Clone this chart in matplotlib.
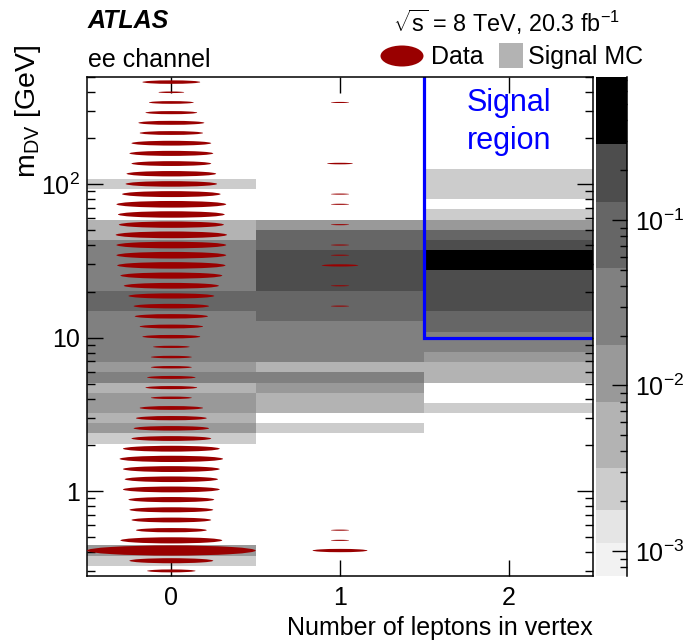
import numpy as np
import matplotlib
matplotlib.use('Agg')
import matplotlib.pyplot as plt
import matplotlib.transforms as mtransforms
from matplotlib.colors import ListedColormap, BoundaryNorm
from matplotlib.patches import Ellipse, Rectangle
from matplotlib.ticker import FixedLocator, LogLocator, NullFormatter, NullLocator

plt.rcParams['font.family'] = ['Liberation Sans', 'DejaVu Sans']
plt.rcParams['mathtext.fontset'] = 'custom'
plt.rcParams['mathtext.rm'] = 'Liberation Sans'
plt.rcParams['mathtext.it'] = 'Liberation Sans:italic'
plt.rcParams['mathtext.bf'] = 'Liberation Sans:bold'

# binning
n_leptons = [0, 1, 2]
m_lo, m_hi, n_bins = 0.28, 500.0, 49

# all per-bin lists below go from the top bin (500 GeV) down to the bottom one
data_0 = [10, 2, 6, 8, 13, 12, 19, 21, 19, 24,
          25, 29, 36, 34, 33, 37, 36, 36, 35, 31,
          27, 22, 17, 16, 12, 10, 4, 5, 5, 7,
          8, 5, 12, 15, 17, 19, 28, 32, 28, 26,
          28, 22, 21, 19, 15, 31, 85, 21, 7]
data_1 = [0, 0, 1, 0, 0, 0, 0, 0, 2, 0,
          0, 1, 1, 0, 1, 0, 1, 1, 4, 0,
          1, 0, 1, 0, 0, 0, 0, 0, 0, 0,
          0, 0, 0, 0, 0, 0, 0, 0, 0, 0,
          0, 0, 0, 0, 1, 1, 9, 0, 0]

# signal MC (fraction per bin)
mc_0 = [0, 0, 0, 0, 0, 0, 0, 0, 0, 0,
        0.0023, 0, 0, 0, 0.0047, 0.0047, 0.026, 0.026, 0.026, 0.026,
        0.026, 0.066, 0.066, 0.026, 0.026, 0.026, 0.026, 0.026, 0.011, 0.026,
        0.0047, 0.011, 0.011, 0.0047, 0.011, 0.0023, 0, 0, 0, 0,
        0, 0, 0, 0, 0, 0, 0.011, 0.0023, 0]
mc_1 = [0, 0, 0, 0, 0, 0, 0, 0, 0, 0,
        0, 0, 0, 0, 0.011, 0.066, 0.066, 0.16, 0.16, 0.16,
        0.16, 0.066, 0.066, 0.066, 0.026, 0.026, 0.026, 0.026, 0.0047, 0.026,
        0.011, 0.0047, 0.0047, 0, 0.0023, 0, 0, 0, 0, 0,
        0, 0, 0, 0, 0, 0, 0, 0, 0]
mc_2 = [0, 0, 0, 0, 0, 0, 0, 0, 0, 0.0023,
        0.0023, 0.0023, 0, 0.0023, 0.011, 0.066, 0.16, 0.35, 0.35, 0.16,
        0.16, 0.16, 0.16, 0.066, 0.066, 0.026, 0.026, 0.011, 0.0047, 0.0047,
        0, 0, 0.0023, 0, 0, 0, 0, 0, 0, 0,
        0, 0, 0, 0, 0, 0, 0, 0, 0]

z_bounds = [0.000706, 0.001115, 0.00177, 0.00318, 0.00798, 0.01758, 0.0511, 0.129, 0.2876, 0.731]
gray_levels = ['#f2f2f2', '#e5e5e5', '#cccccc', '#b3b3b3', '#999999',
               '#808080', '#666666', '#4d4d4d', '#000000']

W, H = 683, 644
def fx(x):
    return x / W
def fy(y):
    return 1 - y / H

m_edges = np.logspace(np.log10(m_lo), np.log10(m_hi), n_bins + 1)
x_edges = np.arange(len(n_leptons) + 1) - 0.5

fig = plt.figure(figsize=(W / 100, H / 100), dpi=100)
ax = fig.add_axes([fx(87), fy(576), fx(593) - fx(87), fy(77) - fy(576)])

cmap = ListedColormap(gray_levels)
norm = BoundaryNorm(z_bounds, cmap.N)
mc = np.array([mc_0[::-1], mc_1[::-1], mc_2[::-1]]).T
mc = np.ma.masked_less_equal(mc, 0)
ax.pcolormesh(x_edges, m_edges, mc, cmap=cmap, norm=norm)

ax.set_xlim(-0.5, 2.5)
ax.set_yscale('log')
ax.set_ylim(m_lo, m_hi)

# signal region
ax.plot([1.5, 1.5, 2.5], [m_hi, 10, 10], color='blue', lw=2.3, solid_joinstyle='miter')
ax.text(2.0, 0.91, 'Signal\nregion', color='blue', fontsize=22, ha='center', va='center',
        linespacing=1.32, transform=mtransforms.blended_transform_factory(ax.transData, ax.transAxes))

ax.set_xticks(n_leptons)
ax.xaxis.set_minor_locator(NullLocator())
ax.yaxis.set_major_locator(FixedLocator([1, 10, 100]))
ax.set_yticklabels(['1', '10', '10$^{2}$'])
ax.yaxis.set_minor_locator(LogLocator(subs=np.arange(2, 10), numticks=20))
ax.yaxis.set_minor_formatter(NullFormatter())
ax.tick_params(which='both', direction='in', top=True, right=True, labelsize=18, width=1)
ax.tick_params(which='major', length=11.5)
ax.tick_params(which='minor', length=5.8)
ax.tick_params(axis='y', pad=5)
ax.tick_params(axis='x', pad=7)
for s in ax.spines.values():
    s.set_linewidth(1.1)

# data as ellipses, area proportional to the count
axd = fig.add_axes(ax.get_position(), frameon=False)
lo, hi = np.log10(m_lo), np.log10(m_hi)
axd.set_xlim(-0.5, 2.5)
axd.set_ylim(lo, hi)
axd.set_axis_off()
dlog = (hi - lo) / n_bins
centers = hi - dlog * (np.arange(n_bins) + 0.5)
nmax = max(max(data_0), max(data_1))
for x, counts in zip(n_leptons, [data_0, data_1]):
    for yc, n in zip(centers, counts):
        if n > 0:
            s = np.sqrt(n / nmax)
            axd.add_patch(Ellipse((x, yc), s * 1.0, s * dlog, color='#990000', lw=0))

# palette
cax = fig.add_axes([fx(596), fy(576), fx(627) - fx(596), fy(77) - fy(576)])
mids = np.sqrt(np.array(z_bounds[:-1]) * np.array(z_bounds[1:]))
cax.pcolormesh([0, 1], z_bounds, mids.reshape(-1, 1), cmap=cmap, norm=norm)
cax.set_yscale('log')
cax.set_ylim(z_bounds[0], z_bounds[-1])
cax.set_xlim(0, 1)
cax.set_xticks([])
for s in ['left', 'top', 'bottom']:
    cax.spines[s].set_visible(False)
cax.spines['right'].set_linewidth(1.1)
cax.yaxis.tick_right()
cax.yaxis.set_major_locator(FixedLocator([1e-3, 1e-2, 1e-1]))
cax.set_yticklabels(['10$^{-3}$', '10$^{-2}$', '10$^{-1}$'])
cax.yaxis.set_minor_locator(LogLocator(subs=np.arange(2, 10), numticks=20))
cax.yaxis.set_minor_formatter(NullFormatter())
cax.tick_params(which='both', direction='in', labelsize=18, pad=6, width=1)
cax.tick_params(which='major', length=11)
cax.tick_params(which='minor', length=5)

# labels
fig.text(fx(28), fy(45), 'm$_{\\mathrm{DV}}$ [GeV]', rotation=90, ha='center', va='top', fontsize=20.5)
fig.text(fx(593), fy(628), 'Number of leptons in vertex', ha='right', va='center', fontsize=18)
fig.text(fx(88), fy(21), 'ATLAS', fontsize=18, fontweight='bold', fontstyle='italic', va='center')
fig.text(fx(88), fy(60), 'ee channel', fontsize=18, va='center')
fig.text(fx(620), fy(22), '$\\sqrt{\\mathrm{s}}$ = 8 TeV, 20.3 fb$^{\\mathrm{-1}}$', fontsize=16.8,
         ha='right', va='center')

# legend
fig.add_artist(Ellipse((fx(402), fy(56)), fx(43), 21 / H, color='#990000', lw=0,
                       transform=fig.transFigure))
fig.text(fx(431), fy(57), 'Data', fontsize=18, va='center')
fig.add_artist(Rectangle((fx(499), fy(68)), fx(24), 25 / H, color='#b3b3b3', lw=0,
                         transform=fig.transFigure))
fig.text(fx(528), fy(57), 'Signal MC', fontsize=18, va='center')

fig.savefig('out.png', dpi=100)
